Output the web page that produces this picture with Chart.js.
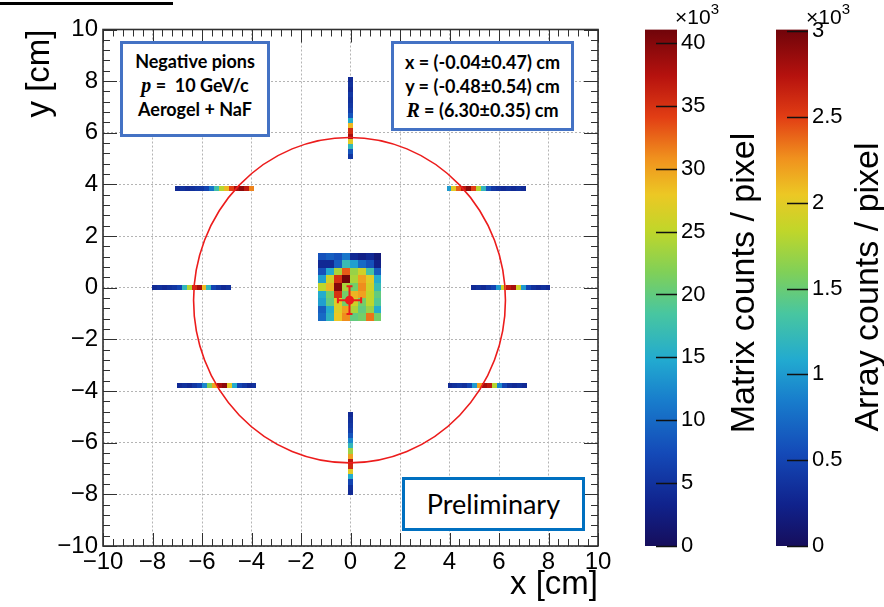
<!DOCTYPE html>
<html>
<head>
<meta charset="utf-8">
<script src="https://cdn.jsdelivr.net/npm/chart.js@4.4.1/dist/chart.umd.min.js"></script>
<style>
  html, body { margin: 0; padding: 0; background: #fff; }
  #wrap { position: relative; width: 884px; height: 607px; overflow: hidden; background: #fff; }
  #wrap canvas { position: absolute; top: 0; }
  .box { position: absolute; box-sizing: border-box; background: #fff; color: #000; text-align: center; }
  .info { border: 3px solid #4472c4; font-family: Lato, "Noto Sans", sans-serif; font-weight: 700; font-size: 18px; line-height: 24px; }
  .info i { font-family: "Liberation Serif", "DejaVu Serif", serif; font-style: italic; font-weight: 700; font-size: 20px; }
  .prelim { border: 3px solid #0070c0; font-family: Lato, "Noto Sans", sans-serif; font-size: 27px; }
  .ztitle { position: absolute; width: 420px; height: 40px; line-height: 40px; text-align: center; white-space: nowrap;
            font-family: "Liberation Sans", Arial, sans-serif; font-size: 34px; color: #000; transform: rotate(-90deg); }
  .mult { position: absolute; font-family: "Liberation Sans", Arial, sans-serif; font-size: 21px; color: #000; white-space: nowrap; }
  .mult sup { font-size: 15px; position: relative; top: -2px; }
  .topline { position: absolute; left: 0; top: 2px; width: 173px; height: 3px; background: #000; }
</style>
</head>
<body>
<div id="wrap">
  <canvas id="main" width="640" height="607" style="left:0"></canvas>
  <canvas id="cbMatrix" width="120" height="607" style="left:645px"></canvas>
  <canvas id="cbArray" width="108" height="607" style="left:776px"></canvas>

  <div class="topline"></div>

  <div class="box info" style="left:120px; top:41px; width:150px; height:96px; padding-top:5px;">
    Negative pions<br><i>p</i> =&nbsp; 10 GeV/c<br>Aerogel + NaF
  </div>
  <div class="box info" id="fitBox" style="left:391px; top:41px; width:183px; height:90px; padding-top:6px;"></div>
  <div class="box prelim" style="left:402px; top:477px; width:183px; height:54px; line-height:48px;">Preliminary</div>

  <div class="mult" style="left:675px; top:2px;">×10<sup>3</sup></div>
  <div class="mult" style="left:806px; top:2px;">×10<sup>3</sup></div>
  <div class="ztitle" style="left:532px; top:263px;">Matrix counts / pixel</div>
  <div class="ztitle" style="left:656px; top:267px;">Array counts / pixel</div>
</div>

<script>
// Axis range (cm) and colour-scale ranges (counts / pixel, x10^3)
const axisRange = [-10, 10];
const matrixScale = [0, 41.07];
const arrayScale = [0, 3.01];

// Ring fit result: value, uncertainty (cm)
const fitX = [-0.04, 0.47];
const fitY = [-0.48, 0.54];
const fitR = [6.30, 0.35];

// Central matrix: counts per pixel (x10^3), rows listed from top to bottom
const matrixEdgesX = [-1.31, 1.25];
const matrixEdgesY = [1.36, -1.29];
const matrixCounts = [
  [ 8,  9,  8, 11,  4,  3,  4,  2],
  [ 4,  4,  9, 17, 14, 10,  8,  3],
  [ 8, 15, 24, 33, 23, 26, 18,  9],
  [14, 26, 35, 41, 24, 30, 27, 15],
  [25, 29, 40, 24, 21, 31, 26, 17],
  [15, 21, 35, 21, 29, 30, 25, 20],
  [14, 20, 27, 21, 26, 21, 25, 19],
  [ 9, 15, 27, 30, 24, 20, 23, 15],
  [10, 16, 28, 31, 20, 21, 32, 21]
];

// Linear arrays: counts per pixel (x10^3), 0.2 cm pixels
const arrayPitch = 0.2;
const arrayUp         = [0.30,0.35,0.30,0.40,0.35,0.40,0.45,0.60,1.10,2.10,2.60,2.80,2.00,1.20,0.60,0.40];
const arrayDown       = [0.30,0.35,0.40,0.45,0.60,0.90,1.20,1.70,2.20,2.70,2.60,2.00,1.10,0.50,0.35,0.30];
const arrayUpperLeft  = [0.30,0.35,0.30,0.35,0.40,0.40,0.50,0.80,1.30,1.80,2.10,2.50,2.80,2.90,2.70,2.30];
const arrayUpperRight = [1.00,2.00,2.40,2.70,2.90,2.50,1.80,1.20,0.60,0.40,0.35,0.30,0.35,0.30,0.35,0.30];
const arrayMidLeft    = [0.30,0.35,0.30,0.35,0.40,0.50,1.20,1.80,2.60,2.80,2.10,1.20,0.50,0.40,0.30,0.35];
const arrayMidRight   = [0.30,0.35,0.30,0.40,0.50,1.00,1.90,2.70,2.80,1.90,1.00,0.50,0.35,0.30,0.35,0.30];
const arrayLowerLeft  = [0.30,0.35,0.30,0.40,0.50,0.90,1.60,2.20,2.80,2.90,2.00,1.10,0.50,0.40,0.30,0.35];
const arrayLowerRight = [0.30,0.35,0.40,0.35,0.50,1.00,2.20,2.80,2.70,1.80,0.90,0.50,0.35,0.30,0.35,0.30];

// Where each array sits: orientation, fixed coordinate, first pixel edge, direction (cm)
const arrays = [
  { counts: arrayUp,         along: 'y', at: 0.00,  from: 8.17,  dir: -1 },
  { counts: arrayDown,       along: 'y', at: 0.00,  from: -4.82, dir: -1 },
  { counts: arrayUpperLeft,  along: 'x', at: 3.83,  from: -7.10, dir: 1 },
  { counts: arrayUpperRight, along: 'x', at: 3.84,  from: 3.88,  dir: 1 },
  { counts: arrayMidLeft,    along: 'x', at: 0.00,  from: -8.02, dir: 1 },
  { counts: arrayMidRight,   along: 'x', at: 0.00,  from: 4.88,  dir: 1 },
  { counts: arrayLowerLeft,  along: 'x', at: -3.77, from: -7.00, dir: 1 },
  { counts: arrayLowerRight, along: 'x', at: -3.77, from: 3.92,  dir: 1 }
];

// Rainbow palette, fraction of full scale -> rgb
const paletteStops = [
  [0.00, [22, 14, 92]],
  [0.08, [16, 34, 140]],
  [0.18, [20, 74, 184]],
  [0.28, [24, 124, 204]],
  [0.36, [34, 170, 208]],
  [0.45, [72, 198, 160]],
  [0.53, [128, 208, 88]],
  [0.61, [192, 214, 42]],
  [0.68, [236, 200, 36]],
  [0.75, [240, 146, 30]],
  [0.83, [226, 62, 20]],
  [0.91, [182, 18, 14]],
  [1.00, [112, 4, 10]]
];

function palette(t) {
  t = Math.max(0, Math.min(1, t));
  for (let i = 1; i < paletteStops.length; i++) {
    const [t1, c1] = paletteStops[i];
    const [t0, c0] = paletteStops[i - 1];
    if (t <= t1) {
      const f = (t - t0) / (t1 - t0);
      const c = c0.map((v, k) => Math.round(v + (c1[k] - v) * f));
      return `rgb(${c[0]},${c[1]},${c[2]})`;
    }
  }
  const c = paletteStops[paletteStops.length - 1][1];
  return `rgb(${c[0]},${c[1]},${c[2]})`;
}

const fmtMinus = v => (v < 0 ? '\u2212' + Math.abs(v) : String(v));
const axisFont = { family: '"Liberation Sans", Arial, sans-serif', size: 24 };
const barFont = { family: '"Liberation Sans", Arial, sans-serif', size: 22 };
const titleFont = { family: '"Liberation Sans", Arial, sans-serif', size: 33 };

document.getElementById('fitBox').innerHTML =
  `x = (${fitX[0].toFixed(2)}\u00b1${fitX[1].toFixed(2)}) cm<br>` +
  `y = (${fitY[0].toFixed(2)}\u00b1${fitY[1].toFixed(2)}) cm<br>` +
  `<i>R</i> = (${fitR[0].toFixed(2)}\u00b1${fitR[1].toFixed(2)}) cm`;

// Filled rectangle between two data-space corners, snapped to whole pixels
function cell(ctx, xs, ys, x0, x1, y0, y1, color) {
  const px0 = Math.round(xs.getPixelForValue(x0)), px1 = Math.round(xs.getPixelForValue(x1));
  const py0 = Math.round(ys.getPixelForValue(y0)), py1 = Math.round(ys.getPixelForValue(y1));
  ctx.fillStyle = color;
  ctx.fillRect(Math.min(px0, px1), Math.min(py0, py1), Math.abs(px1 - px0), Math.abs(py1 - py0));
}

const hitMapPlugin = {
  id: 'hitMap',
  beforeDatasetsDraw(chart) {
    const { ctx, scales: { x, y } } = chart;
    ctx.save();
    // central matrix
    const nr = matrixCounts.length, nc = matrixCounts[0].length;
    const dx = (matrixEdgesX[1] - matrixEdgesX[0]) / nc;
    const dy = (matrixEdgesY[0] - matrixEdgesY[1]) / nr;
    matrixCounts.forEach((row, i) => row.forEach((v, j) => {
      cell(ctx, x, y,
        matrixEdgesX[0] + j * dx, matrixEdgesX[0] + (j + 1) * dx,
        matrixEdgesY[0] - i * dy, matrixEdgesY[0] - (i + 1) * dy,
        palette(v / matrixScale[1]));
    }));
    // linear arrays
    const half = arrayPitch / 2;
    arrays.forEach(a => a.counts.forEach((v, i) => {
      const s0 = a.from + a.dir * i * arrayPitch, s1 = a.from + a.dir * (i + 1) * arrayPitch;
      const col = palette(v / arrayScale[1]);
      if (a.along === 'x') cell(ctx, x, y, s0, s1, a.at - half, a.at + half, col);
      else cell(ctx, x, y, a.at - half, a.at + half, s0, s1, col);
    }));
    // fitted ring
    const cx = x.getPixelForValue(fitX[0]), cy = y.getPixelForValue(fitY[0]);
    const rx = x.getPixelForValue(fitX[0] + fitR[0]) - cx;
    const ry = cy - y.getPixelForValue(fitY[0] + fitR[0]);
    ctx.strokeStyle = '#ec1c1c';
    ctx.lineWidth = 1.6;
    ctx.beginPath();
    ctx.ellipse(cx, cy, rx, ry, 0, 0, Math.PI * 2);
    ctx.stroke();
    // centre uncertainties
    const xl = x.getPixelForValue(fitX[0] - fitX[1]), xr = x.getPixelForValue(fitX[0] + fitX[1]);
    const yt = y.getPixelForValue(fitY[0] + fitY[1]), yb = y.getPixelForValue(fitY[0] - fitY[1]);
    ctx.lineWidth = 2;
    ctx.beginPath();
    ctx.moveTo(xl, cy); ctx.lineTo(xr, cy);
    ctx.moveTo(cx, yt); ctx.lineTo(cx, yb);
    ctx.moveTo(xl, cy - 3); ctx.lineTo(xl, cy + 3);
    ctx.moveTo(xr, cy - 3); ctx.lineTo(xr, cy + 3);
    ctx.moveTo(cx - 3, yt); ctx.lineTo(cx + 3, yt);
    ctx.moveTo(cx - 3, yb); ctx.lineTo(cx + 3, yb);
    ctx.stroke();
    ctx.restore();
  }
};

// Frame with inward major/minor ticks on all four sides
const framePlugin = {
  id: 'frame',
  afterDraw(chart) {
    const { ctx, chartArea: a, scales: { x, y } } = chart;
    ctx.save();
    ctx.strokeStyle = '#303030';
    ctx.lineWidth = 1;
    ctx.beginPath();
    for (let k = 0; k <= 50; k++) {
      const v = axisRange[0] + k * 0.4;
      const major = k % 5 === 0;
      const px = Math.round(x.getPixelForValue(v)) + 0.5;
      const lx = major ? 13 : 7;
      ctx.moveTo(px, a.bottom); ctx.lineTo(px, a.bottom - lx);
      ctx.moveTo(px, a.top); ctx.lineTo(px, a.top + lx);
      const py = Math.round(y.getPixelForValue(v)) + 0.5;
      const ly = major ? 14 : 7;
      ctx.moveTo(a.left, py); ctx.lineTo(a.left + ly, py);
      ctx.moveTo(a.right, py); ctx.lineTo(a.right - ly, py);
    }
    ctx.stroke();
    ctx.lineWidth = 1.6;
    ctx.strokeRect(a.left, a.top, a.right - a.left, a.bottom - a.top);
    ctx.restore();
  }
};

new Chart(document.getElementById('main'), {
  type: 'scatter',
  data: {
    datasets: [{
      data: [{ x: fitX[0], y: fitY[0] }],
      pointRadius: 4.5,
      pointHoverRadius: 4.5,
      backgroundColor: '#ec1c1c',
      borderColor: '#ec1c1c',
      borderWidth: 0
    }]
  },
  options: {
    responsive: false,
    animation: false,
    events: [],
    layout: { padding: { top: 29.5, right: 42, left: 0, bottom: 0 } },
    plugins: { legend: { display: false }, tooltip: { enabled: false } },
    scales: {
      x: {
        type: 'linear', min: axisRange[0], max: axisRange[1], position: 'bottom',
        ticks: { stepSize: 2, padding: 2, color: '#000', font: axisFont, callback: fmtMinus, maxRotation: 0, autoSkip: false },
        grid: { color: '#b4b4b4', lineWidth: 1, drawTicks: false },
        border: { display: false, dash: [2, 2] },
        title: { display: true, text: 'x [cm]', align: 'end', color: '#000', font: titleFont, padding: { top: 0, bottom: 2 } },
        afterFit: s => { s.height = 61; }
      },
      y: {
        type: 'linear', min: axisRange[0], max: axisRange[1], position: 'left',
        ticks: { stepSize: 2, padding: 5, color: '#000', font: axisFont, callback: fmtMinus, autoSkip: false },
        grid: { color: '#b4b4b4', lineWidth: 1, drawTicks: false },
        border: { display: false, dash: [2, 2] },
        title: { display: true, text: 'y [cm]', align: 'end', color: '#000', font: titleFont, padding: { top: 20, bottom: 0 } },
        afterFit: s => { s.width = 103; }
      }
    }
  },
  plugins: [hitMapPlugin, framePlugin]
});

// Colour bars
const barTicksPlugin = {
  id: 'barTicks',
  afterDatasetsDraw(chart) {
    const { ctx, chartArea: a, scales: { y } } = chart;
    ctx.save();
    ctx.strokeStyle = '#111';
    ctx.lineWidth = 1.4;
    ctx.beginPath();
    y.ticks.forEach(t => {
      const py = Math.round(y.getPixelForValue(t.value)) + 0.5;
      ctx.moveTo(a.right - 21, py); ctx.lineTo(a.right, py);
    });
    ctx.stroke();
    ctx.restore();
  }
};

function colourBar(id, range, step, fmt) {
  const el = document.getElementById(id);
  return new Chart(el, {
    type: 'bar',
    data: {
      labels: [''],
      datasets: [{
        data: [[range[0], range[1]]],
        barPercentage: 1,
        categoryPercentage: 1,
        borderWidth: 0,
        backgroundColor: c => {
          const area = c.chart.chartArea;
          if (!area) return '#000';
          const g = c.chart.ctx.createLinearGradient(0, area.bottom, 0, area.top);
          paletteStops.forEach(([t, col]) => g.addColorStop(t, `rgb(${col[0]},${col[1]},${col[2]})`));
          return g;
        }
      }]
    },
    options: {
      responsive: false,
      animation: false,
      events: [],
      layout: { padding: { top: 29.5, bottom: 61, left: 0, right: 0 } },
      plugins: { legend: { display: false }, tooltip: { enabled: false } },
      scales: {
        x: { display: false },
        y: {
          position: 'right', min: range[0], max: range[1],
          ticks: { stepSize: step, includeBounds: false, padding: 4, color: '#000', font: barFont, callback: fmt },
          grid: { display: false, drawTicks: false },
          border: { display: false },
          afterFit: s => { s.width = el.width - 32; }
        }
      }
    },
    plugins: [barTicksPlugin]
  });
}

colourBar('cbMatrix', matrixScale, 5, v => String(v));
colourBar('cbArray', arrayScale, 0.5, v => String(v));
</script>
</body>
</html>
